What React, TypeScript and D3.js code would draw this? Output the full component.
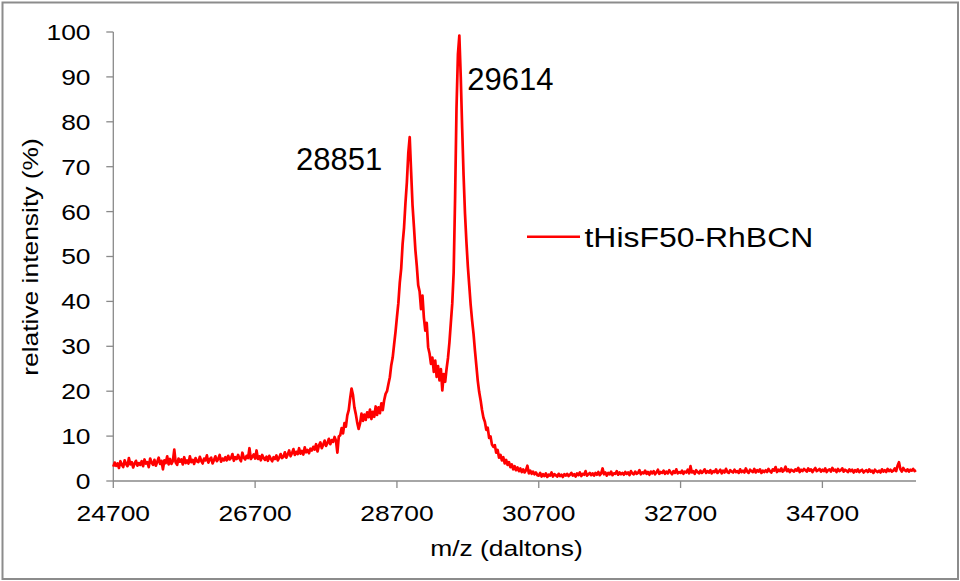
import React from "react";
import * as d3 from "d3";

// Uniformly sampled spectrum: m/z starts at 24700 Da, one sample every 20 Da
const MZ_START = 24700;
const MZ_STEP = 20;

// 24700 .. 27880 : slowly rising noisy baseline
const baselineRegion = [
  3.2, 4.1, 3.4, 3.9, 2.9, 4.4, 3.6, 3.1, 4.6, 3.8, 3.3, 5.1, 3.7, 4.2, 3.0, 3.9, 4.5, 3.4, 4.0, 3.6,
  4.4, 3.3, 4.8, 3.9, 4.2, 3.1, 5.0, 4.1, 3.6, 4.7, 3.4, 4.3, 5.2, 3.8, 4.5, 2.6, 4.6, 4.0, 5.5, 3.7,
  4.9, 3.8, 4.4, 7.0, 4.1, 3.6, 5.0, 4.3, 4.8, 3.7, 5.3, 4.0, 4.6, 3.9, 5.5, 4.2, 4.7, 3.8, 5.1, 4.4,
  4.2, 5.4, 4.5, 3.9, 5.0, 4.6, 5.7, 4.1, 4.8, 5.2, 3.9, 4.7, 5.5, 4.4, 4.9, 5.8, 4.3, 5.0, 4.6, 5.3,
  4.6, 5.6, 4.8, 5.1, 6.0, 4.5, 5.3, 4.9, 5.8, 5.0, 4.4, 6.3, 5.2, 4.8, 5.6, 5.1, 7.3, 4.9, 5.4, 5.9,
  5.0, 6.8, 4.9, 5.5, 4.6, 5.8, 5.1, 4.7, 5.4, 4.5, 5.6, 5.0, 4.4, 5.3, 4.9, 5.7, 4.6, 5.2, 6.0, 5.1,
  5.4, 6.4, 5.2, 5.9, 6.8, 5.5, 6.2, 7.1, 5.8, 6.5, 6.0, 7.3, 6.1, 6.7, 5.9, 7.5, 6.4, 6.9, 6.2, 7.2,
  6.8, 7.6, 7.0, 8.2, 6.6, 7.9, 8.6, 7.3, 8.1, 9.0, 7.8, 8.5, 9.4, 8.2, 9.1, 8.7, 9.8, 9.0, 6.3, 9.9,
];

// 27900 .. 30680 : minor peak, 28851 and 29614 peaks, decay
const peakRegion = [
  10.2, 11.8, 10.6, 12.9, 12.1, 14.6, 15.8, 18.4, 20.6, 19.2, 16.4, 14.9, 13.0, 11.6, 12.8, 15.0, 13.4, 14.8, 13.6, 15.3,
  14.2, 15.9, 13.8, 15.4, 14.3, 16.6, 14.7, 16.4, 15.1, 17.3, 15.8, 18.0, 19.4, 20.0, 21.6, 23.1, 25.8, 27.5, 30.4, 33.2,
  36.5, 39.6, 44.2, 47.3, 52.8, 56.4, 61.9, 66.5, 73.0, 76.6, 68.9, 61.4, 56.6, 51.5, 47.9, 43.6, 42.2, 38.3, 41.3, 36.4,
  33.5, 35.2, 29.8, 28.4, 26.1, 27.5, 24.3, 26.8, 23.2, 25.6, 22.4, 24.9, 20.2, 23.8, 22.1, 25.0, 27.4, 30.8, 35.2, 39.5,
  46.5, 63.0, 83.0, 95.0, 99.2, 90.0, 78.5, 68.0, 59.5, 53.2, 47.8, 43.5, 39.2, 35.8, 32.8, 29.1, 25.7, 22.3, 19.8, 18.0,
  15.8, 14.1, 13.2, 11.4, 11.9, 9.6, 9.9, 8.1, 7.6, 8.0, 6.3, 6.9, 5.2, 5.8, 4.6, 5.3, 3.9, 4.7, 3.6, 4.2,
  3.1, 3.7, 2.6, 3.3, 2.4, 3.0, 2.2, 2.8, 2.0, 2.6, 1.9, 2.4, 3.4, 1.7, 2.3, 1.6, 2.1, 1.5, 1.9, 1.3,
];

// 30700 .. 36020 : flat tail
const tailRegion = [
  1.2, 1.8, 1.0, 1.5, 1.1, 1.7, 0.9, 1.4, 1.2, 1.9, 1.0, 1.5, 1.3, 1.0, 1.6, 1.1, 1.4, 0.9, 1.5, 1.2,
  1.6, 1.1, 1.4, 1.8, 1.2, 1.5, 1.0, 1.7, 1.3, 1.9, 1.1, 1.6, 1.4, 2.2, 1.2, 1.5, 1.8, 1.3, 1.7, 1.2,
  1.8, 1.4, 2.0, 1.3, 1.7, 2.8, 1.5, 1.9, 1.2, 1.8, 1.5, 2.1, 1.3, 1.7, 1.6, 2.2, 1.4, 1.9, 1.5, 1.8,
  1.4, 2.0, 1.6, 1.9, 1.3, 2.2, 1.7, 1.5, 2.1, 1.6, 1.8, 2.4, 1.5, 1.9, 1.7, 2.3, 1.6, 2.0, 1.4, 2.1,
  1.7, 2.2, 1.5, 1.9, 2.5, 1.6, 2.0, 1.8, 2.3, 1.6, 2.1, 1.7, 2.4, 1.9, 1.5, 2.2, 1.8, 2.6, 1.7, 2.0,
  1.8, 2.3, 1.6, 2.1, 1.9, 2.5, 1.7, 3.3, 1.9, 2.2, 1.6, 2.4, 2.0, 1.7, 2.3, 1.8, 2.1, 2.6, 1.8, 2.2,
  1.9, 2.4, 1.7, 2.2, 2.0, 2.6, 1.8, 2.1, 2.5, 1.7, 2.3, 1.9, 2.7, 2.0, 1.8, 2.4, 2.1, 1.9, 2.5, 2.0,
  2.2, 1.8, 2.6, 2.0, 2.3, 1.9, 2.8, 2.1, 1.8, 2.5, 2.2, 2.0, 2.7, 1.9, 2.4, 2.1, 2.6, 1.8, 2.3, 2.0,
  2.4, 2.0, 2.7, 2.2, 1.9, 2.6, 2.3, 3.1, 2.0, 2.5, 2.2, 2.8, 2.1, 2.4, 3.2, 2.2, 2.6, 2.0, 2.5, 2.3,
  2.1, 2.6, 2.3, 2.9, 2.0, 2.5, 2.2, 2.7, 2.4, 2.1, 2.8, 2.3, 2.6, 2.0, 2.5, 2.9, 2.2, 2.4, 2.7, 2.1,
  2.5, 2.2, 2.8, 2.0, 2.4, 2.6, 2.1, 2.9, 2.3, 2.5, 2.0, 2.7, 2.2, 2.4, 2.8, 2.1, 2.5, 2.3, 2.0, 2.6,
  2.2, 2.5, 1.9, 2.4, 2.1, 2.6, 2.0, 2.3, 2.5, 1.9, 2.2, 2.4, 2.0, 2.6, 2.1, 2.3, 1.8, 2.5, 2.2, 2.0,
  2.3, 1.9, 2.6, 2.1, 2.4, 2.0, 2.7, 2.2, 2.5, 2.1, 2.3, 2.8, 2.2, 3.4, 4.2, 2.6, 2.1, 2.9, 2.4, 2.2,
  2.6, 2.1, 2.5, 2.3, 2.7, 2.2, 2.4,
];

const seriesName = "tHisF50-RhBCN";
const xTicks = [24700, 26700, 28700, 30700, 32700, 34700];
const yTicks = [0, 10, 20, 30, 40, 50, 60, 70, 80, 90, 100];
const peakLabels = ["28851", "29614"];
const xTitle = "m/z (daltons)";
const yTitle = "relative intensity (%)";

const intensity = [...baselineRegion, ...peakRegion, ...tailRegion];
const data = intensity.map((v, i) => ({ mz: MZ_START + i * MZ_STEP, v }));

const W = 960;
const H = 581;
const FONT = "'Liberation Sans', Arial, sans-serif";
const AXIS = "#898989";

export default function App() {
  const x = d3.scaleLinear().domain([24700, 36020]).range([113.3, 916]);
  const y = d3.scaleLinear().domain([0, 100]).range([481, 32]);
  const line = d3
    .line<{ mz: number; v: number }>()
    .x((d) => x(d.mz))
    .y((d) => y(d.v));

  const tickK = 1.2;
  return (
    <svg
      width={W}
      height={H}
      viewBox={`0 0 ${W} ${H}`}
      style={{ position: "absolute", left: 0, top: 0, display: "block", background: "#fff" }}
      fontFamily={FONT}
    >
      <rect x={0} y={0} width={W} height={H} fill="#fff" />
      <rect x={2.5} y={2.5} width={955.5} height={576.5} fill="none" stroke="#8c8c8c" strokeWidth={2} />

      {/* y axis */}
      <line x1={x(24700)} x2={x(24700)} y1={y(100)} y2={y(0)} stroke={AXIS} strokeWidth={1.3} />
      {yTicks.map((t) => (
        <g key={"y" + t}>
          <line x1={x(24700) - 7} x2={x(24700)} y1={y(t)} y2={y(t)} stroke={AXIS} strokeWidth={1.3} />
          <text
            transform={`translate(90.5,${y(t) + 7.9}) scale(${tickK},1)`}
            textAnchor="end"
            fontSize={22}
            fill="#000"
          >
            {t}
          </text>
        </g>
      ))}

      {/* x axis */}
      <line x1={x(24700)} x2={x(36020)} y1={y(0)} y2={y(0)} stroke={AXIS} strokeWidth={1.3} />
      {xTicks.map((t) => (
        <g key={"x" + t}>
          <line x1={x(t)} x2={x(t)} y1={y(0)} y2={y(0) + 7} stroke={AXIS} strokeWidth={1.3} />
          <text
            transform={`translate(${x(t)},521) scale(${tickK},1)`}
            textAnchor="middle"
            fontSize={22}
            fill="#000"
          >
            {t}
          </text>
        </g>
      ))}

      {/* axis titles */}
      <text transform={`translate(506.5,556) scale(1.2,1)`} textAnchor="middle" fontSize={22} fill="#000">
        {xTitle}
      </text>
      <text
        transform={`translate(38,257) rotate(-90) scale(1.2,1)`}
        textAnchor="middle"
        fontSize={22}
        fill="#000"
      >
        {yTitle}
      </text>

      {/* spectrum */}
      <path d={line(data) || ""} fill="none" stroke="#ff0000" strokeWidth={2.7} strokeLinejoin="round" />

      {/* peak labels */}
      <text x={296} y={170} fontSize={31} fill="#000">
        {peakLabels[0]}
      </text>
      <text x={467.3} y={90} fontSize={31} fill="#000">
        {peakLabels[1]}
      </text>

      {/* legend */}
      <line x1={527} x2={580} y1={236.7} y2={236.7} stroke="#ff0000" strokeWidth={2.5} />
      <text transform={`translate(584.5,246.7) scale(1.14,1)`} fontSize={28} fill="#000">
        {seriesName}
      </text>
    </svg>
  );
}
